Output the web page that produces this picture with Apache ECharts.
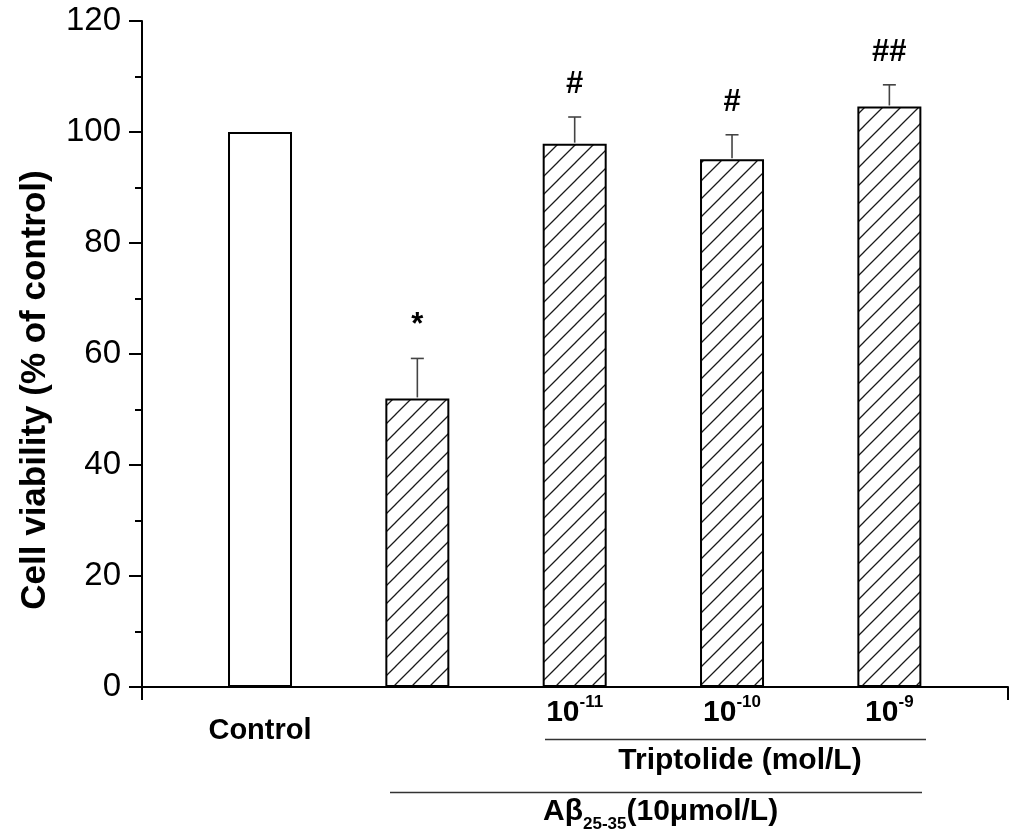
<!DOCTYPE html>
<html>
<head>
<meta charset="utf-8">
<script src="https://cdn.jsdelivr.net/npm/echarts@6/dist/echarts.min.js"></script>
<style>
html,body{margin:0;padding:0;background:#fff;}
#chart{width:1016px;height:835px;}
</style>
</head>
<body>
<div id="chart"></div>
<script>
// ---- data ----
const categories = ['Control', 'Aβ', '10^-11', '10^-10', '10^-9'];
const tickLabels = ['{c|Control}', '', '{n|10}{s|-11}', '{n|10}{s|-10}', '{n|10}{s|-9}'];
const positions = [1, 2, 3, 4, 5];
const viability = [100, 52.0, 97.9, 95.1, 104.6];
const errors = [0, 7.2, 4.8, 4.4, 3.9];
const marks = ['', '*', '#', '#', '##'];
const yTicks = [0, 20, 40, 60, 80, 100, 120];

const FONT = '"Liberation Sans", Arial, Helvetica, sans-serif';

// hatch pattern
function makeHatch() {
  const s = 18;
  const c = document.createElement('canvas');
  c.width = s; c.height = s;
  const g = c.getContext('2d');
  g.fillStyle = '#ffffff';
  g.fillRect(0, 0, s, s);
  g.strokeStyle = '#1a1a1a';
  g.lineWidth = 1.3;
  g.beginPath();
  g.moveTo(-2, s + 2); g.lineTo(s + 2, -2);
  g.moveTo(s - 3, s + 3); g.lineTo(s + 3, s - 3);
  g.moveTo(-3, 3); g.lineTo(3, -3);
  g.stroke();
  return c;
}
const hatch = { image: makeHatch(), repeat: 'repeat' };

const barData = positions.map((x, i) => ({
  value: [x, viability[i]],
  itemStyle: { color: i === 0 ? '#ffffff' : hatch }
}));
const errData = positions.map((x, i) => [x, viability[i], errors[i]]);

const chart = echarts.init(document.getElementById('chart'), null, { renderer: 'canvas' });

const option = {
  animation: false,
  backgroundColor: '#ffffff',
  grid: { left: 142, right: 8, top: 21, bottom: 148, containLabel: false },
  xAxis: {
    type: 'value',
    min: 0.25,
    max: 5.754,
    splitLine: { show: false },
    axisLine: { show: true, onZero: false, lineStyle: { color: '#000', width: 2 } },
    axisTick: { show: true, inside: false, length: 13, customValues: [0.25, 5.754], lineStyle: { color: '#000', width: 2 } },
    axisLabel: {
      show: true,
      customValues: positions,
      margin: 5,
      formatter: function (v) {
        const i = positions.indexOf(Math.round(v));
        return i >= 0 ? tickLabels[i] : '';
      },
      rich: {
        n: { fontFamily: FONT, fontWeight: 'bold', fontSize: 30, color: '#000', lineHeight: 36, verticalAlign: 'bottom' },
        s: { fontFamily: FONT, fontWeight: 'bold', fontSize: 17, color: '#000', lineHeight: 36, verticalAlign: 'top', padding: [2, 0, 0, 0] },
        c: { fontFamily: FONT, fontWeight: 'bold', fontSize: 29, color: '#000', padding: [24, 0, 0, 0] }
      }
    }
  },
  yAxis: {
    type: 'value',
    min: 0,
    max: 120,
    interval: 20,
    splitLine: { show: false },
    axisLine: { show: true, lineStyle: { color: '#000', width: 2 } },
    axisTick: { show: true, inside: false, length: 13, lineStyle: { color: '#000', width: 2 } },
    minorTick: { show: true, splitNumber: 2, length: 7, lineStyle: { color: '#000', width: 2 } },
    axisLabel: {
      margin: 21,
      fontFamily: FONT,
      fontSize: 33,
      color: '#000',
      formatter: function (v) { return yTicks.indexOf(v) >= 0 ? String(v) : ''; }
    }
  },
  series: [
    {
      type: 'bar',
      data: barData,
      barWidth: 64,
      itemStyle: { borderColor: '#000', borderWidth: 2 },
      z: 2
    },
    {
      type: 'custom',
      data: errData,
      z: 3,
      renderItem: function (params, api) {
        const x = api.value(0), m = api.value(1), e = api.value(2);
        const i = params.dataIndex;
        const top = api.coord([x, m]);
        const et = api.coord([x, m + e]);
        const children = [];
        if (e > 0) {
          children.push({
            type: 'line',
            shape: { x1: top[0], y1: top[1] - 1, x2: et[0], y2: et[1] },
            style: { stroke: '#444', lineWidth: 1.6 }
          });
          children.push({
            type: 'line',
            shape: { x1: et[0] - 6.5, y1: et[1], x2: et[0] + 6.5, y2: et[1] },
            style: { stroke: '#444', lineWidth: 1.6 }
          });
        }
        if (marks[i]) {
          children.push({
            type: 'text',
            x: et[0],
            y: et[1] - 17,
            style: {
              text: marks[i],
              fill: '#000',
              font: 'bold 31px ' + FONT,
              align: 'center',
              verticalAlign: 'bottom'
            }
          });
        }
        return { type: 'group', children: children };
      }
    }
  ],
  graphic: [
    {
      type: 'text',
      x: 35, y: 390,
      rotation: Math.PI / 2,
      style: {
        text: 'Cell viability (% of control)',
        fill: '#000',
        font: 'bold 35px ' + FONT,
        align: 'center',
        verticalAlign: 'middle'
      }
    },
    {
      type: 'line',
      shape: { x1: 545, y1: 739.5, x2: 926, y2: 739.5 },
      style: { stroke: '#333', lineWidth: 1.5 }
    },
    {
      type: 'text',
      x: 740, y: 761,
      style: {
        text: 'Triptolide (mol/L)',
        fill: '#000',
        font: 'bold 30px ' + FONT,
        align: 'center',
        verticalAlign: 'middle'
      }
    },
    {
      type: 'line',
      shape: { x1: 390, y1: 792.5, x2: 922, y2: 792.5 },
      style: { stroke: '#333', lineWidth: 1.5 }
    },
    {
      type: 'text',
      x: 543, y: 815,
      style: {
        text: '{a|Aβ}{b|25-35}{a|(10μmol/L)}',
        align: 'left',
        verticalAlign: 'middle',
        rich: {
          a: { fontFamily: FONT, fontWeight: 'bold', fontSize: 30, fill: '#000', color: '#000', lineHeight: 34, verticalAlign: 'top' },
          b: { fontFamily: FONT, fontWeight: 'bold', fontSize: 17, fill: '#000', color: '#000', lineHeight: 36, verticalAlign: 'bottom' }
        }
      }
    }
  ]
};
chart.setOption(option);
</script>
</body>
</html>
